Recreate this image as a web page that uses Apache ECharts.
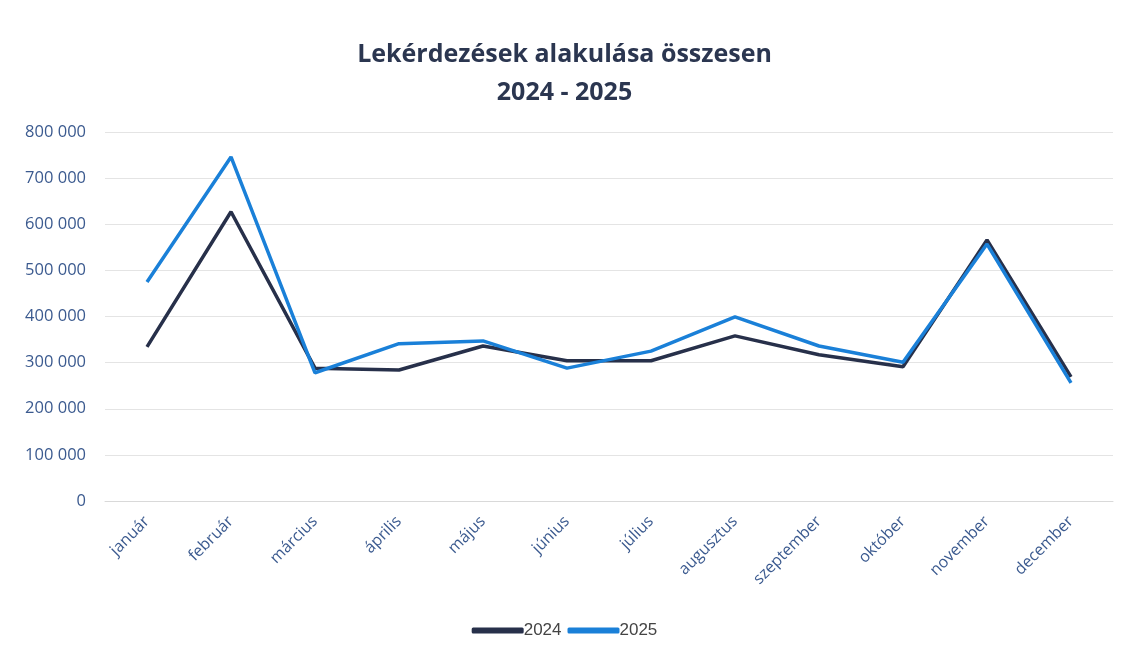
<!DOCTYPE html>
<html>
<head>
<meta charset="utf-8">
<script src="https://cdn.jsdelivr.net/npm/echarts@6/dist/echarts.min.js"></script>
<style>
  html, body { margin: 0; padding: 0; background: #fff; }
  #chart { width: 1129px; height: 654px; }
</style>
</head>
<body>
<div id="chart"></div>
<script>
const months = ['január', 'február', 'március', 'április', 'május', 'június',
  'július', 'augusztus', 'szeptember', 'október', 'november', 'december']
const values2024 = [334000, 627000, 288000, 284000, 336000, 304000, 304000, 358000, 317000, 291000, 566000, 269000]
const values2025 = [475000, 746000, 278000, 341000, 347000, 288000, 325000, 399000, 336000, 301000, 557000, 256000]
const seriesNames = ['2024', '2025']

// 100 000 style labels
function fmt (v) {
  return String(v).replace(/\B(?=(\d{3})+(?!\d))/g, ' ')
}

const chart = echarts.init(document.getElementById('chart'))

chart.setOption({
  backgroundColor: '#fff',
  animation: false,
  title: {
    text: 'Lekérdezések alakulása összesen\n2024 - 2025',
    left: 'center',
    top: 31,
    textStyle: {
      fontFamily: 'Open Sans',
      fontWeight: 'bold',
      fontSize: 25,
      color: '#2b3650',
      lineHeight: 38
    }
  },
  legend: {
    bottom: 10,
    left: 'center',
    itemWidth: 52,
    itemHeight: 6,
    itemGap: 6,
    icon: 'roundRect',
    textStyle: { fontFamily: 'Liberation Sans', fontSize: 17, color: '#444', padding: [0, 0, 0, -5] },
    data: seriesNames
  },
  grid: { left: 105, right: 16, top: 132, bottom: 153 },
  xAxis: {
    type: 'category',
    data: months,
    boundaryGap: true,
    axisLine: { show: true, lineStyle: { color: '#d9d9d9', width: 1 } },
    axisTick: { show: false },
    axisLabel: {
      rotate: 45,
      margin: 18,
      fontFamily: 'Open Sans',
      fontSize: 16,
      color: '#3b5a8f'
    }
  },
  yAxis: {
    type: 'value',
    min: 0,
    max: 800000,
    interval: 100000,
    axisLine: { show: false },
    axisTick: { show: false },
    axisLabel: {
      margin: 19,
      fontFamily: 'Open Sans',
      fontSize: 16.5,
      color: '#3b5a8f',
      formatter: fmt
    },
    splitLine: { lineStyle: { color: '#e4e4e4', width: 1 } }
  },
  series: [
    {
      name: seriesNames[0],
      type: 'line',
      data: values2024,
      symbol: 'none',
      z: 2,
      lineStyle: { color: '#27304a', width: 3.5 },
      itemStyle: { color: '#27304a' }
    },
    {
      name: seriesNames[1],
      type: 'line',
      data: values2025,
      symbol: 'none',
      z: 3,
      lineStyle: { color: '#1a80d8', width: 3.5 },
      itemStyle: { color: '#1a80d8' }
    }
  ]
})
</script>
</body>
</html>
